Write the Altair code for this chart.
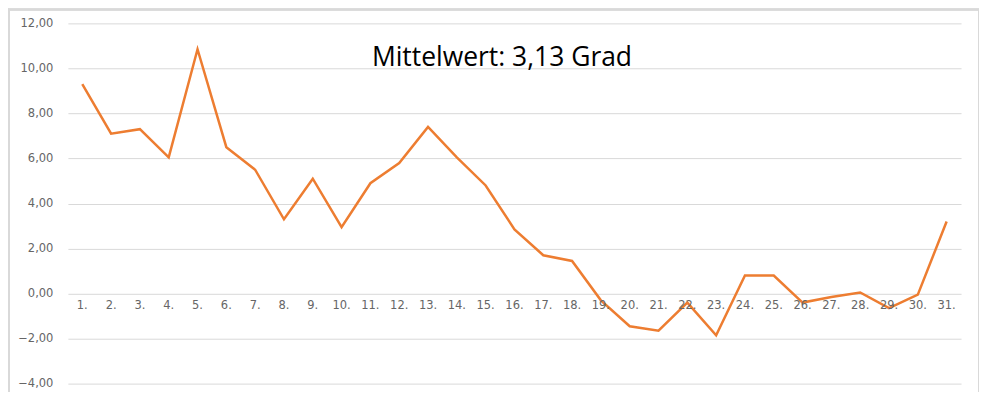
import altair as alt
import pandas as pd

days = [f"{i}." for i in range(1, 32)]
values = [9.3, 7.1, 7.3, 6.05, 10.85, 6.5, 5.5, 3.3, 5.1, 2.95,
          4.9, 5.8, 7.4, 6.05, 4.8, 2.85, 1.7, 1.45, -0.3, -1.45,
          -1.65, -0.4, -1.85, 0.8, 0.8, -0.4, -0.15, 0.05, -0.65, -0.05,
          3.2]
y_ticks = [-4, -2, 0, 2, 4, 6, 8, 10, 12]
annotation = "Mittelwert: 3,13 Grad"

df = pd.DataFrame({"day": days, "value": values})

W, H = 895, 361
LABEL_FONT = "DejaVu Sans"
LABEL_COLOR = "#666666"

x_enc = alt.X("day:O", sort=days, axis=None, scale=alt.Scale(padding=0.5))
y_scale = alt.Scale(domain=[-4, 12], nice=False, zero=False)

border = alt.Chart(df).mark_rect(
    fill=None, stroke="#d9d9d9", strokeWidth=1.5, clip=False
).encode(
    x=alt.value(-59), x2=alt.value(913), y=alt.value(-14), y2=alt.value(400)
)

line = alt.Chart(df).mark_line(color="#ED7D31", strokeWidth=2.5).encode(
    x=x_enc,
    y=alt.Y(
        "value:Q",
        scale=y_scale,
        axis=alt.Axis(
            values=y_ticks,
            labelExpr="replace(format(datum.value, '.2f'), '.', ',')",
            title=None,
            domain=False,
            ticks=False,
            labelPadding=15,
            labelFontSize=11.5,
            labelColor=LABEL_COLOR,
            labelFont=LABEL_FONT,
            gridColor="#d9d9d9",
            gridWidth=1,
        ),
    ),
)

xlabels = alt.Chart(df).mark_text(
    dy=12, baseline="middle", fontSize=11.5, color=LABEL_COLOR, font=LABEL_FONT
).encode(x=x_enc, y=alt.datum(0, scale=y_scale), text="day:N")

title = alt.Chart(df).transform_filter(alt.datum.day == "1.").mark_text(
    text=annotation, fontSize=26.5, font="Open Sans", color="#000000",
    align="center", baseline="alphabetic"
).encode(x=alt.value(435), y=alt.value(43))

chart = alt.layer(border, line, xlabels, title).properties(
    width=W, height=H,
    autosize=alt.AutoSizeParams(type="none"),
    padding={"left": 60, "top": 15, "right": 18, "bottom": 8},
).configure_view(stroke=None)

chart.save("out.html", embed_options={"renderer": "svg", "actions": False})
